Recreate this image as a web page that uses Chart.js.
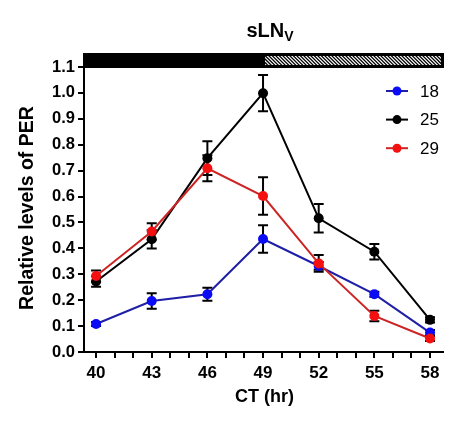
<!DOCTYPE html>
<html>
<head>
<meta charset="utf-8">
<script src="https://cdn.jsdelivr.net/npm/chart.js@4.4.1/dist/chart.umd.min.js"></script>
<style>
  html, body { margin: 0; padding: 0; background: #fff; }
  #wrap { width: 459px; height: 424px; }
</style>
</head>
<body>
<div id="wrap"><canvas id="chart" width="459" height="424"></canvas></div>
<script>
// CT time points (hr)
const ct = [40, 43, 46, 49, 52, 55, 58];
const xLabels = [40, 43, 46, 49, 52, 55, 58];

// relative PER levels per temperature, with SEM
const per18 = [0.108, 0.197, 0.223, 0.436, 0.332, 0.223, 0.075];
const err18 = [0.008, 0.030, 0.025, 0.053, 0.015, 0.010, 0.010];
const per25 = [0.272, 0.435, 0.748, 0.999, 0.516, 0.387, 0.124];
const err25 = [0.020, 0.036, 0.065, 0.070, 0.055, 0.030, 0.010];
const per29 = [0.293, 0.465, 0.709, 0.602, 0.342, 0.139, 0.052];
const err29 = [0.022, 0.032, 0.050, 0.072, 0.032, 0.020, 0.010];

const seriesNames = ["18", "25", "29"];
// dark phase ends at CT 49, then hatched (light/subjective day)
const darkEnd = 49;

const FONT = "'Liberation Sans', Arial, sans-serif";

function pts(ys) {
    return ct.map((x, i) => ({ x: x, y: ys[i] }));
}

// error bars, drawn under the points
const errorBars = {
    id: "errorBars",
    beforeDatasetsDraw(chart) {
        const ctx = chart.ctx;
        const yScale = chart.scales.y;
        ctx.save();
        ctx.strokeStyle = "#000";
        ctx.lineWidth = 2;
        chart.data.datasets.forEach((ds, di) => {
            const meta = chart.getDatasetMeta(di);
            meta.data.forEach((p, i) => {
                const v = ds.data[i].y;
                const e = ds.errors[i];
                const yt = yScale.getPixelForValue(v + e);
                const yb = yScale.getPixelForValue(v - e);
                ctx.beginPath();
                ctx.moveTo(p.x, yt); ctx.lineTo(p.x, yb);
                ctx.moveTo(p.x - 5, yt); ctx.lineTo(p.x + 5, yt);
                ctx.moveTo(p.x - 5, yb); ctx.lineTo(p.x + 5, yb);
                ctx.stroke();
            });
        });
        ctx.restore();
    }
};

// titles, top light bar and legend
const decorations = {
    id: "decorations",
    afterDraw(chart) {
        const ctx = chart.ctx;
        const area = chart.chartArea;
        const xs = chart.scales.x;
        ctx.save();

        // title sLN with subscript V
        ctx.fillStyle = "#000";
        ctx.textBaseline = "alphabetic";
        ctx.font = "bold 20px " + FONT;
        const main = "sLN";
        const wMain = ctx.measureText(main).width;
        ctx.font = "bold 14px " + FONT;
        const wSub = ctx.measureText("V").width;
        let tx = 270 - (wMain + wSub) / 2;
        ctx.font = "bold 20px " + FONT;
        ctx.textAlign = "left";
        ctx.fillText(main, tx, 37);
        ctx.font = "bold 14px " + FONT;
        ctx.fillText("V", tx + wMain, 41);

        // light / dark bar
        const barTop = 53, barH = 15;
        const xDark = xs.getPixelForValue(darkEnd) + 2;
        ctx.fillStyle = "#000";
        ctx.fillRect(area.left - 1, barTop, xDark - area.left + 1, barH);
        ctx.fillRect(xDark, barTop, area.right - xDark + 1, barH);
        ctx.fillStyle = "#fff";
        ctx.fillRect(xDark, barTop + 3, area.right - xDark - 2, barH - 6);
        ctx.save();
        ctx.beginPath();
        ctx.rect(xDark, barTop + 3, area.right - xDark - 2, barH - 6);
        ctx.clip();
        ctx.strokeStyle = "#000";
        ctx.lineWidth = 1.3;
        for (let x = xDark - 20; x < area.right + 20; x += 3.5) {
            ctx.beginPath();
            ctx.moveTo(x, barTop);
            ctx.lineTo(x + barH, barTop + barH);
            ctx.stroke();
        }
        ctx.restore();

        // axis titles
        ctx.fillStyle = "#000";
        ctx.font = "bold 18px " + FONT;
        ctx.textAlign = "center";
        ctx.textBaseline = "middle";
        ctx.fillText("CT (hr)", (area.left + area.right) / 2 + 1, 397);
        ctx.save();
        ctx.translate(28, 208);
        ctx.rotate(-Math.PI / 2);
        ctx.font = "bold 19.5px " + FONT;
        ctx.fillText("Relative levels of PER", 0, 0);
        ctx.restore();

        // legend
        chart.data.datasets.forEach((ds, i) => {
            const ly = 91 + i * 28.6;
            ctx.strokeStyle = ds.borderColor;
            ctx.lineWidth = 2;
            ctx.beginPath();
            ctx.moveTo(386, ly); ctx.lineTo(408, ly);
            ctx.stroke();
            ctx.fillStyle = ds.pointBackgroundColor;
            ctx.beginPath();
            ctx.arc(397, ly, 4.5, 0, Math.PI * 2);
            ctx.fill();
            ctx.fillStyle = "#000";
            ctx.font = "17px " + FONT;
            ctx.textAlign = "left";
            ctx.textBaseline = "middle";
            ctx.fillText(ds.label, 420, ly + 1);
        });
        ctx.restore();
    }
};

const chart = new Chart(document.getElementById("chart"), {
    type: "line",
    plugins: [errorBars, decorations],
    data: {
        datasets: [
            {
                label: seriesNames[0], data: pts(per18), errors: err18,
                borderColor: "#1e1ea6", pointBackgroundColor: "#0b0bf5",
                pointBorderColor: "#0b0bf5", order: 3
            },
            {
                label: seriesNames[1], data: pts(per25), errors: err25,
                borderColor: "#000000", pointBackgroundColor: "#000000",
                pointBorderColor: "#000000", order: 2
            },
            {
                label: seriesNames[2], data: pts(per29), errors: err29,
                borderColor: "#cc2424", pointBackgroundColor: "#f41010",
                pointBorderColor: "#f41010", order: 1
            }
        ]
    },
    options: {
        responsive: false,
        animation: false,
        layout: { padding: { top: 67, right: 16, left: 0, bottom: 0 } },
        elements: {
            line: { borderWidth: 2, tension: 0 },
            point: { radius: 5, borderWidth: 0, hoverRadius: 5 }
        },
        plugins: {
            legend: { display: false },
            tooltip: { enabled: false },
            title: { display: false }
        },
        scales: {
            x: {
                type: "linear",
                min: 39.35,
                max: 58.7,
                afterFit(scale) { scale.height = 72; },
                afterBuildTicks(scale) {
                    const t = [];
                    for (let v = 40; v <= 58; v++) t.push({ value: v });
                    scale.ticks = t;
                },
                ticks: {
                    autoSkip: false,
                    maxRotation: 0,
                    color: "#000",
                    padding: 5,
                    font: { family: FONT, size: 17, weight: "bold" },
                    callback: (v) => xLabels.includes(v) ? String(v) : ""
                },
                grid: {
                    display: true, drawOnChartArea: false, drawTicks: true,
                    tickLength: 6, color: "#000", lineWidth: 2
                },
                border: { display: true, color: "#000", width: 2 }
            },
            y: {
                min: 0,
                max: 1.1,
                afterFit(scale) { scale.width = 84; },
                ticks: {
                    stepSize: 0.1,
                    color: "#000",
                    padding: 3,
                    font: { family: FONT, size: 16.5, weight: "bold" },
                    callback: (v) => v.toFixed(1)
                },
                grid: {
                    display: true, drawOnChartArea: false, drawTicks: true,
                    tickLength: 6, color: "#000", lineWidth: 2
                },
                border: { display: true, color: "#000", width: 2 }
            }
        }
    }
});
</script>
</body>
</html>
